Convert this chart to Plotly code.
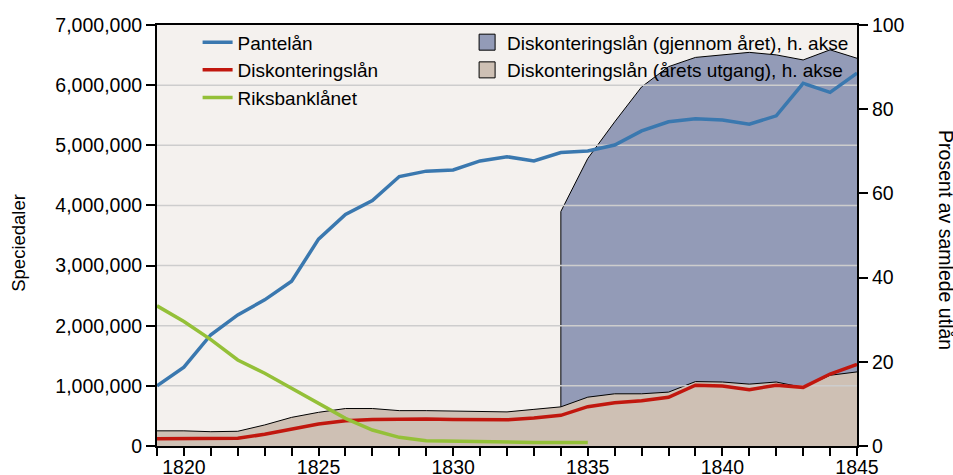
import plotly.graph_objects as go

# ---------------- data ----------------
years = list(range(1819, 1846))
years_green = list(range(1819, 1836))
years_disc_year = list(range(1834, 1846))

pantelan = [1.00e6, 1.31e6, 1.85e6, 2.18e6, 2.43e6, 2.74e6, 3.44e6, 3.85e6, 4.08e6,
            4.48e6, 4.57e6, 4.59e6, 4.74e6, 4.81e6, 4.74e6, 4.88e6, 4.905e6, 5.005e6,
            5.24e6, 5.39e6, 5.44e6, 5.42e6, 5.35e6, 5.49e6, 6.03e6, 5.88e6, 6.2e6]

diskonteringslan = [0.121e6, 0.127e6, 0.13e6, 0.13e6, 0.194e6, 0.283e6, 0.366e6, 0.42e6,
                    0.44e6, 0.445e6, 0.45e6, 0.44e6, 0.44e6, 0.435e6, 0.466e6, 0.51e6,
                    0.654e6, 0.72e6, 0.754e6, 0.81e6, 1.01e6, 0.998e6, 0.937e6, 1.01e6,
                    0.975e6, 1.197e6, 1.358e6]

riksbanklanet = [2.33e6, 2.07e6, 1.77e6, 1.43e6, 1.21e6, 0.96e6, 0.71e6, 0.46e6, 0.266e6,
                 0.144e6, 0.088e6, 0.078e6, 0.072e6, 0.066e6, 0.06e6, 0.06e6, 0.06e6]

# percent of total lending (right axis)
disk_utgang_pct = [3.6, 3.6, 3.4, 3.5, 5.0, 6.8, 8.0, 8.9, 8.9, 8.4, 8.4, 8.3, 8.2, 8.1,
                   8.7, 9.3, 11.6, 12.4, 12.4, 12.8, 15.3, 15.2, 14.7, 15.2, 13.9, 16.8, 17.6]
disk_gjennom_pct = [55.7, 68.3, 77.0, 85.3, 90.1, 92.3, 92.9, 93.5, 92.9, 91.7, 94.1, 92.1]

x_ticks = [1820, 1825, 1830, 1835, 1840, 1845]
left_ticks = [0, 1e6, 2e6, 3e6, 4e6, 5e6, 6e6, 7e6]
right_ticks = [0, 20, 40, 60, 80, 100]
x_range = [1819, 1845]

# ---------------- style ----------------
FONT = "Liberation Sans, Arial, sans-serif"
C_BLUE = "#3a78af"
C_RED = "#c1170e"
C_GREEN = "#94c038"
C_AREA_BLUE = "#939bb7"
C_AREA_BEIGE = "#cec0b4"
C_BG = "#f4f1ee"
C_GRID = "#cdcdcd"

fig = go.Figure()

# areas on the percent (right) axis: main subplot
fig.add_trace(go.Scatter(
    x=[years_disc_year[0]] + years_disc_year, y=[0] + disk_gjennom_pct,
    mode="lines", fill="tozeroy", fillcolor=C_AREA_BLUE,
    line=dict(color="black", width=1), xaxis="x", yaxis="y",
    showlegend=False, hoverinfo="skip"))
fig.add_trace(go.Scatter(
    x=years, y=disk_utgang_pct,
    mode="lines", fill="tozeroy", fillcolor=C_AREA_BEIGE,
    line=dict(color="black", width=1), xaxis="x", yaxis="y",
    showlegend=False, hoverinfo="skip"))

# gridlines (money axis) drawn above the areas but below the lines
gx, gy = [], []
for v in left_ticks[1:-1]:
    gx += [x_range[0], x_range[1], None]
    gy += [v, v, None]
fig.add_trace(go.Scatter(x=gx, y=gy, mode="lines", line=dict(color=C_GRID, width=1.5),
                         xaxis="x", yaxis="y2", showlegend=False, hoverinfo="skip"))

# lines on money (left) axis
fig.add_trace(go.Scatter(x=years, y=pantelan, name="Pantelån", mode="lines",
                         line=dict(color=C_BLUE, width=3.5), xaxis="x", yaxis="y2",
                         legend="legend"))
fig.add_trace(go.Scatter(x=years, y=diskonteringslan, name="Diskonteringslån", mode="lines",
                         line=dict(color=C_RED, width=3.5), xaxis="x", yaxis="y2",
                         legend="legend"))
fig.add_trace(go.Scatter(x=years_green, y=riksbanklanet, name="Riksbanklånet", mode="lines",
                         line=dict(color=C_GREEN, width=3.5), xaxis="x", yaxis="y2",
                         legend="legend"))

# legend entries for the areas
fig.add_trace(go.Scatter(x=[None], y=[None], mode="markers",
                         name="Diskonteringslån (gjennom året), h. akse",
                         marker=dict(symbol="square", size=16, color=C_AREA_BLUE,
                                     line=dict(color="black", width=1)),
                         xaxis="x", yaxis="y", legend="legend2"))
fig.add_trace(go.Scatter(x=[None], y=[None], mode="markers",
                         name="Diskonteringslån (årets utgang), h. akse",
                         marker=dict(symbol="square", size=16, color=C_AREA_BEIGE,
                                     line=dict(color="black", width=1)),
                         xaxis="x", yaxis="y", legend="legend2"))

axis_common = dict(showline=True, linecolor="black", linewidth=2, ticks="outside",
                   tickcolor="black", tickwidth=1.5, showgrid=False, zeroline=False,
                   automargin=False,
                   tickfont=dict(family=FONT, size=19.5, color="black"))

fig.update_layout(
    width=953, height=475,
    margin=dict(l=157, r=96, t=25, b=29, autoexpand=False),
    paper_bgcolor="white", plot_bgcolor=C_BG,
    font=dict(family=FONT, color="black"),
    xaxis=dict(range=x_range, tickvals=x_ticks, ticklen=8, mirror=True,
               ticklabelstandoff=-5,
               minor=dict(dtick=1, tick0=1819, ticks="outside", ticklen=8,
                          tickwidth=1.5, tickcolor="black"),
               **axis_common),
    yaxis=dict(range=[0, 100], tickvals=right_ticks, side="right", ticklen=9,
               **axis_common),
    yaxis2=dict(range=[0, 7e6], tickvals=left_ticks, tickformat=",", side="left",
                overlaying="y", ticklen=9, **axis_common),
    legend=dict(x=0.058, y=1.004, xanchor="left", yanchor="top",
                bgcolor="rgba(0,0,0,0)", font=dict(family=FONT, size=19),
                tracegroupgap=0),
    legend2=dict(x=0.443, y=1.004, xanchor="left", yanchor="top",
                 bgcolor="rgba(0,0,0,0)", font=dict(family=FONT, size=19)),
    annotations=[
        dict(text="Speciedaler", textangle=-90, x=-0.199, y=0.482, xref="paper",
             yref="paper", xanchor="center", yanchor="middle", showarrow=False,
             font=dict(family=FONT, size=18.5, color="black")),
        dict(text="Prosent av samlede utlån", textangle=90, x=1.128, y=0.49,
             xref="paper", yref="paper", xanchor="center", yanchor="middle",
             showarrow=False, font=dict(family=FONT, size=19.5, color="black")),
    ],
    showlegend=True,
)

fig.write_html("out.html",
               config={"displayModeBar": False},
               post_script="document.body.style.margin='0px';"
                           "document.body.style.overflow='hidden';")
